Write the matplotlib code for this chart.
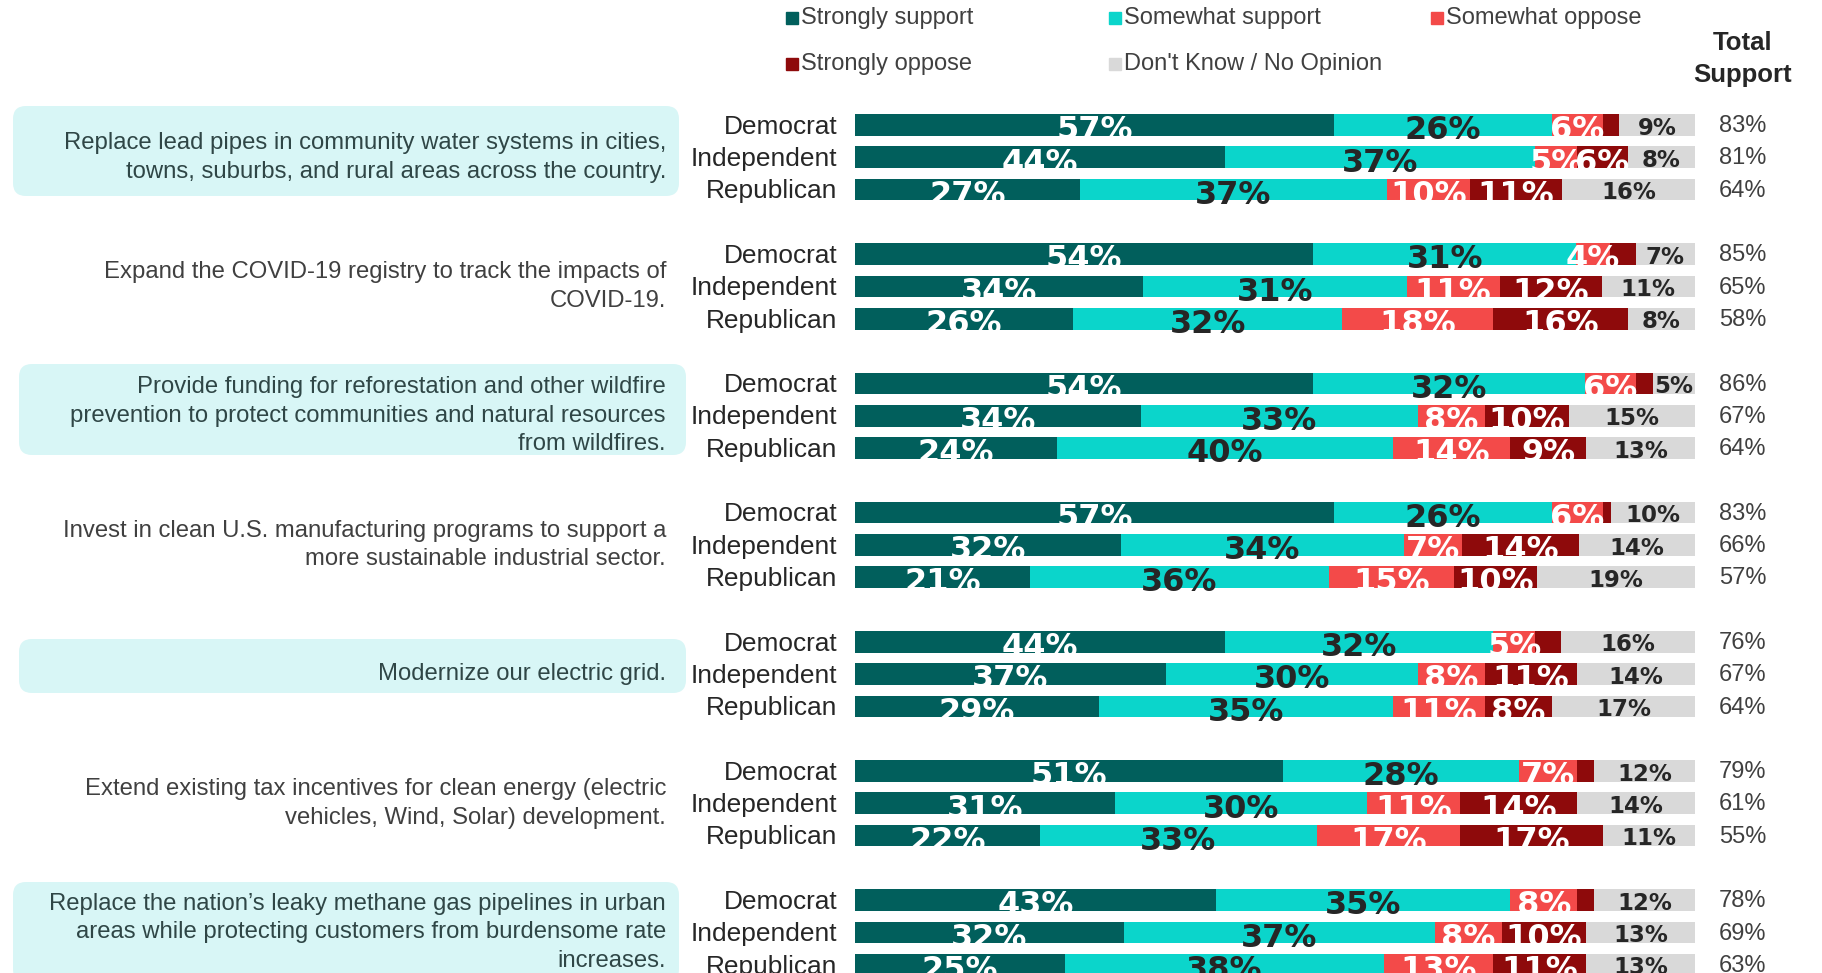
import numpy as np
import matplotlib
matplotlib.use("Agg")
import matplotlib.pyplot as plt
from matplotlib.patches import FancyBboxPatch
from matplotlib.transforms import Affine2D

# ---- data ----
questions = [
    "Replace lead pipes in community water systems in cities,\ntowns, suburbs, and rural areas across the country.",
    "Expand the COVID-19 registry to track the impacts of\nCOVID-19.",
    "Provide funding for reforestation and other wildfire\nprevention to protect communities and natural resources\nfrom wildfires.",
    "Invest in clean U.S. manufacturing programs to support a\nmore sustainable industrial sector.",
    "Modernize our electric grid.",
    "Extend existing tax incentives for clean energy (electric\nvehicles, Wind, Solar) development.",
    "Replace the nation\u2019s leaky methane gas pipelines in urban\nareas while protecting customers from burdensome rate\nincreases.",
]
highlighted = [True, False, True, False, True, False, True]
parties = ["Democrat", "Independent", "Republican"]
categories = ["Strongly support", "Somewhat support", "Somewhat oppose",
              "Strongly oppose", "Don't Know / No Opinion"]

# one value per bar: question 1 (D, I, R), question 2 (D, I, R), ...
strongly_support = [57, 44, 27, 54, 34, 26, 54, 34, 24, 57, 32, 21, 44, 37, 29, 51, 31, 22, 43, 32, 25]
somewhat_support = [26, 37, 37, 31, 31, 32, 32, 33, 40, 26, 34, 36, 32, 30, 35, 28, 30, 33, 35, 37, 38]
somewhat_oppose = [6, 5, 10, 4, 11, 18, 6, 8, 14, 6, 7, 15, 5, 8, 11, 7, 11, 17, 8, 8, 13]
strongly_oppose = [2, 6, 11, 3, 12, 16, 2, 10, 9, 1, 14, 10, 3, 11, 8, 2, 14, 17, 2, 10, 11]
dont_know = [9, 8, 16, 7, 11, 8, 5, 15, 13, 10, 14, 19, 16, 14, 17, 12, 14, 11, 12, 13, 13]
total_support = [83, 81, 64, 85, 65, 58, 86, 67, 64, 83, 66, 57, 76, 67, 64, 79, 61, 55, 78, 69, 63]

colors = ["#015f5c", "#0bd5cb", "#f34a49", "#8e0a0b", "#d9d9d9"]
label_colors = ["white", "#262626", "white", "white", "#262626"]

# ---- layout (pixels of the 1822x973 canvas) ----
W, H = 1822, 973
BAR_LEFT, PX_PER_PCT = 855, 8.4
ROW0, ROW_PX = 125, 32.3
REG = "Liberation Sans"
TXT = "#404040"

def px_x(px):
    return (px - BAR_LEFT) / PX_PER_PCT

def px_y(py):
    return (py - ROW0) / ROW_PX

fig = plt.figure(figsize=(W / 100, H / 100), dpi=100)
ax = fig.add_axes([0, 0, 1, 1])
ax.set_xlim(px_x(0), px_x(W))
ax.set_ylim(px_y(H), px_y(0))
ax.axis("off")
pix = Affine2D().scale(1 / W, -1 / H).translate(0, 1) + fig.transFigure

series = np.array([strongly_support, somewhat_support, somewhat_oppose,
                   strongly_oppose, dont_know], dtype=float)
shares = series / series.sum(axis=0) * 100
n_q = len(questions)
ypos = np.array([4 * g + p for g in range(n_q) for p in range(3)])

# highlight boxes behind some questions
boxes = {0: (13, 106, 666, 90), 2: (19, 364, 667, 91),
         4: (19, 639, 667, 54), 6: (13, 882, 666, 100)}
for g, (bx, by, bw, bh) in boxes.items():
    ax.add_patch(FancyBboxPatch((bx, by), bw, bh, boxstyle="round,pad=0,rounding_size=13",
                                transform=pix, facecolor="#d8f6f6", edgecolor="none", zorder=0))

left = np.zeros(len(ypos))
for k in range(5):
    ax.barh(ypos, shares[k], left=left, height=0.67, color=colors[k], linewidth=0, zorder=2)
    for i in range(len(ypos)):
        v = series[k, i]
        if v < 4:
            continue
        cx = left[i] + shares[k, i] / 2
        if k == 4:
            ax.text(cx, ypos[i] + 0.3, "%d%%" % v, ha="center", va="baseline", fontsize=16.5,
                    fontweight="bold", family="DejaVu Sans", color=label_colors[k], zorder=3)
        else:
            ax.text(cx, ypos[i] + 0.44, "%d%%" % v, ha="center", va="baseline", fontsize=23,
                    fontweight="bold", family="DejaVu Sans", color=label_colors[k], zorder=3)
    left += shares[k]

for i, y in enumerate(ypos):
    ax.text(px_x(837), y + 0.27, parties[i % 3], ha="right", va="baseline",
            fontsize=18.9, family=REG, color="#262626")
    ax.text(px_x(1743), y + 0.22, "%d%%" % total_support[i], ha="center", va="baseline",
            fontsize=17, family=REG, color=TXT)

for g, q in enumerate(questions):
    ax.text(px_x(666), 4 * g + 1, q, ha="right", va="center", fontsize=17.2,
            family=REG, color="#2f4646" if highlighted[g] else TXT, linespacing=1.38)

ax.text(px_x(1743), px_y(59), "Total\nSupport", ha="center", va="center", fontsize=18.5,
        fontweight="bold", family=REG, color="#262626", linespacing=1.38)

# legend
leg_pos = [(787, 18), (1110, 18), (1432, 18), (787, 64), (1110, 64)]
for k, (lx, ly) in enumerate(leg_pos):
    ax.plot(px_x(lx + 5), px_y(ly), marker="s", markersize=8.5, color=colors[k],
            linestyle="none", clip_on=False)
    ax.text(px_x(lx + 14), px_y(ly), categories[k], ha="left", va="center",
            fontsize=17, family=REG, color=TXT)

fig.savefig("out.png", dpi=100)
